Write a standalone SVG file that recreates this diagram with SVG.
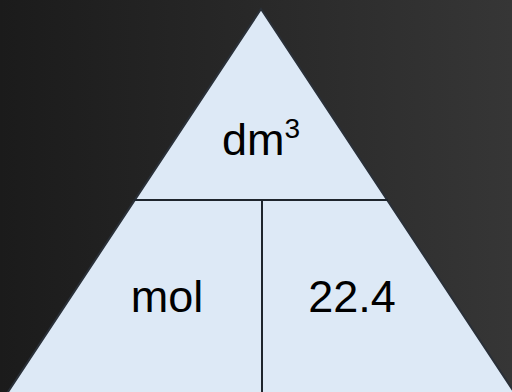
<svg xmlns="http://www.w3.org/2000/svg" width="512" height="392" viewBox="0 0 512 392">
<defs>
<linearGradient id="bg" x1="0" y1="0" x2="1" y2="0">
<stop offset="0" stop-color="#1b1b1b"/>
<stop offset="1" stop-color="#363636"/>
</linearGradient>
<style>
.lbl{font-family:"Liberation Sans",Arial,sans-serif;font-size:45px;fill:#000;text-anchor:middle}
.edge{stroke:#1e252d;stroke-width:2;fill:none}
</style>
</defs>
<rect x="0" y="0" width="512" height="392" fill="url(#bg)"/>
<g id="triangle">
<polygon points="261,9 518,398 4,398" fill="#dde9f6" stroke="#2a3038" stroke-width="2"/>
</g>
<g id="connectors">
<line class="edge" x1="134" y1="200" x2="388" y2="200"/>
<line class="edge" x1="262" y1="200" x2="262" y2="392"/>
</g>
<g id="top">
<text class="lbl" x="261" y="155">dm<tspan font-size="28" dy="-17">3</tspan></text>
</g>
<g id="left">
<text class="lbl" x="167" y="312">mol</text>
</g>
<g id="right">
<text class="lbl" x="352" y="312">22.4</text>
</g>
</svg>
